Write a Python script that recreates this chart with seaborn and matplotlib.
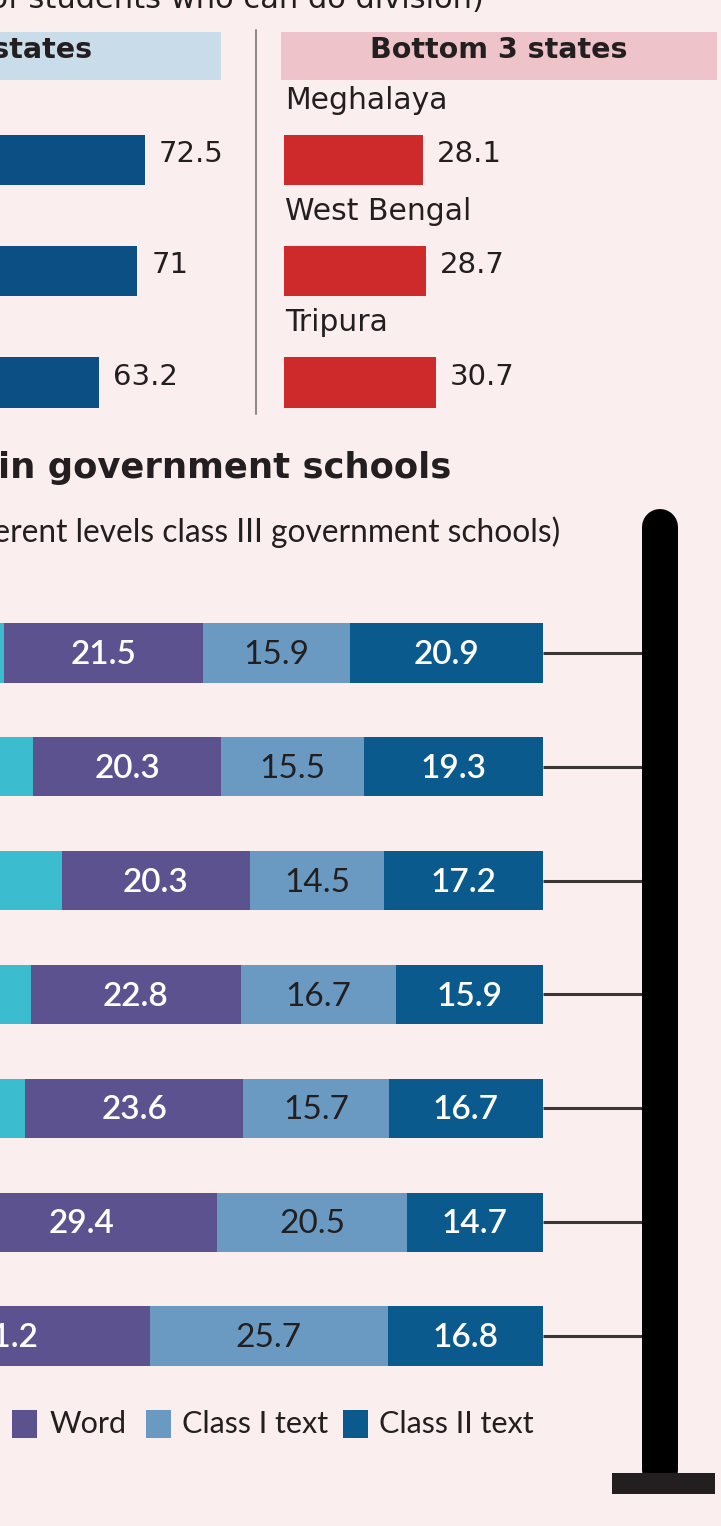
import matplotlib
matplotlib.use("Agg")
import matplotlib.pyplot as plt
import seaborn as sns
import pandas as pd
from matplotlib.patches import Rectangle

# ---------------- data ----------------
# Division: share of class III students who can do division
top_ranks = ["1st", "2nd", "3rd"]
top_values = [72.5, 71.0, 63.2]

bottom_states = ["Meghalaya", "West Bengal", "Tripura"]
bottom_values = [28.1, 28.7, 30.7]

# Reading levels in government schools, class III (%)
reading_rows = ["r1", "r2", "r3", "r4", "r5", "r6", "r7"]
letter = [19.5, 22.4, 23.1, 21.8, 20.6, 17.9, 14.6]
word = [21.5, 20.3, 20.3, 22.8, 23.6, 29.4, 31.2]
class1_text = [15.9, 15.5, 14.5, 16.7, 15.7, 20.5, 25.7]
class2_text = [20.9, 19.3, 17.2, 15.9, 16.7, 14.7, 16.8]
level_names = ["Letter", "Word", "Class I text", "Class II text"]

# ---------------- style ----------------
BG = "#FAEEEE"
INK = "#231F20"
BLUE_TOP = "#0C4F85"
RED = "#CE2A2B"
HEAD_BLUE = "#C8DCEA"
HEAD_PINK = "#EEC3C9"
LEVEL_COLORS = {"Letter": "#3CBDCF", "Word": "#5B528F",
                "Class I text": "#6A9AC2", "Class II text": "#0A5A8D"}
LABEL_COLORS = {"Word": "white", "Class I text": INK, "Class II text": "white"}

WIDE = "DejaVu Sans"
NARROW = "Lato"

sns.set_theme(style="white")
plt.rcParams["font.family"] = [NARROW, "DejaVu Sans"]

W, H = 721, 1526
fig = plt.figure(figsize=(W / 100, H / 100), dpi=100, facecolor=BG)


def px_axes(x0, y0, x1, y1, z=1):
    a = fig.add_axes([x0 / W, 1 - y1 / H, (x1 - x0) / W, (y1 - y0) / H], zorder=z)
    a.set_facecolor("none")
    a.axis("off")
    return a


# ---------------- top panels: division ----------------
PX_PER_UNIT_TOP = 4.95
row_gap = 111.25
y_top0 = 160 - row_gap / 2
y_top1 = 382.5 + row_gap / 2

ax_l = px_axes(-214, y_top0, -214 + 80 * PX_PER_UNIT_TOP, y_top1)
sns.barplot(x=top_values, y=top_ranks, orient="h", color=BLUE_TOP,
            saturation=1, width=0.45, linewidth=0, edgecolor="none", ax=ax_l)
ax_r = px_axes(284, y_top0, 284 + 80 * PX_PER_UNIT_TOP, y_top1)
sns.barplot(x=bottom_values, y=bottom_states, orient="h", color=RED,
            saturation=1, width=0.45, linewidth=0, edgecolor="none", ax=ax_r)

for a, vals in ((ax_l, top_values), (ax_r, bottom_values)):
    a.set_xlim(0, 80)
    a.set_ylim(len(vals) - 0.5, -0.5)
    a.axis("off")
    for i, v in enumerate(vals):
        a.annotate(f"{v:g}", xy=(v, i), xytext=(10, -1.5),
                   textcoords="offset points", ha="left", va="baseline",
                   fontsize=21, family=WIDE, color=INK)

for i, name in enumerate(bottom_states):
    ax_r.text(0.3, i - 0.46, name, ha="left", va="baseline",
              fontsize=21.5, family=WIDE, color=INK)

# ---------------- bottom panel: reading levels ----------------
PX_PER_UNIT_B = 9.25
b_gap = 113.83
yb0 = 653 - b_gap / 2
yb1 = 653 + 6 * b_gap + b_gap / 2
ax_b = px_axes(543 - 100 * PX_PER_UNIT_B, yb0, 543, yb1)

levels = pd.DataFrame({"row": reading_rows, "Letter": letter, "Word": word,
                       "Class I text": class1_text, "Class II text": class2_text})

# stack right-aligned at 100: each segment starts where the ones to its right end
right_edge = pd.Series(100.0, index=levels.index)
for name in reversed(level_names):
    left = right_edge - levels[name]
    sns.barplot(data=levels, x=name, y="row", order=reading_rows, orient="h",
                color=LEVEL_COLORS[name], saturation=1, width=0.52,
                linewidth=0, edgecolor="none", left=left.values, ax=ax_b)
    if name in LABEL_COLORS:
        for i, (l, v) in enumerate(zip(left, levels[name])):
            ax_b.annotate(f"{v:g}", xy=(l + v / 2, i), xytext=(0, -8),
                          textcoords="offset points", ha="center", va="baseline",
                          fontsize=24, color=LABEL_COLORS[name],
                          fontweight="semibold" if LABEL_COLORS[name] == "white" else "normal")
    right_edge = left

ax_b.set_xlim(0, 100)
ax_b.set_ylim(len(reading_rows) - 0.5, -0.5)
ax_b.axis("off")
ax_b.hlines(range(len(reading_rows)), 100, 100 + (643 - 543) / PX_PER_UNIT_B,
            color="#3A3636", lw=2.2, clip_on=False, zorder=0)

# ---------------- overlay: headings, frame pieces, legend ----------------
ov = px_axes(0, 0, W, H, z=5)
ov.set_xlim(0, W)
ov.set_ylim(H, 0)

ov.text(484, 8, "(% of students who can do division)", ha="right", va="baseline",
        fontsize=22, family=WIDE, color=INK)

ov.add_patch(Rectangle((-20, 32), 241, 48, color=HEAD_BLUE, lw=0))
ov.add_patch(Rectangle((281, 32), 436, 48, color=HEAD_PINK, lw=0))
ov.text(92, 58, "Top 3 states", ha="right", va="baseline", fontsize=20.5,
        family=WIDE, fontweight="bold", color=INK)
ov.text(499, 58, "Bottom 3 states", ha="center", va="baseline", fontsize=20.5,
        family=WIDE, fontweight="bold", color=INK)
ov.plot([256, 256], [30, 414], color="#8C8888", lw=1.4)

ov.text(-2, 478, "in government schools", ha="left", va="baseline", fontsize=25.5,
        family=WIDE, fontweight="bold", color=INK)
ov.text(560, 542, "different levels class III government schools)", ha="right",
        va="baseline", fontsize=22.8, family=NARROW, color=INK)

# pole with rounded top and a flat base
ov.plot([660, 660], [527, 1470], color="black", lw=36 * 0.72,
        solid_capstyle="round", zorder=2)
ov.add_patch(Rectangle((612, 1473), 103, 21, color=INK, lw=0, zorder=3))

# legend
for sx, tx, name in ((12, 50, "Word"), (146, 182, "Class I text"), (343, 379, "Class II text")):
    ov.add_patch(Rectangle((sx, 1410), 25, 28, color=LEVEL_COLORS[name], lw=0))
    ov.text(tx, 1433, name, ha="left", va="baseline", fontsize=22,
            family=NARROW, color=INK)

fig.savefig("out.png", dpi=100, facecolor=BG)
